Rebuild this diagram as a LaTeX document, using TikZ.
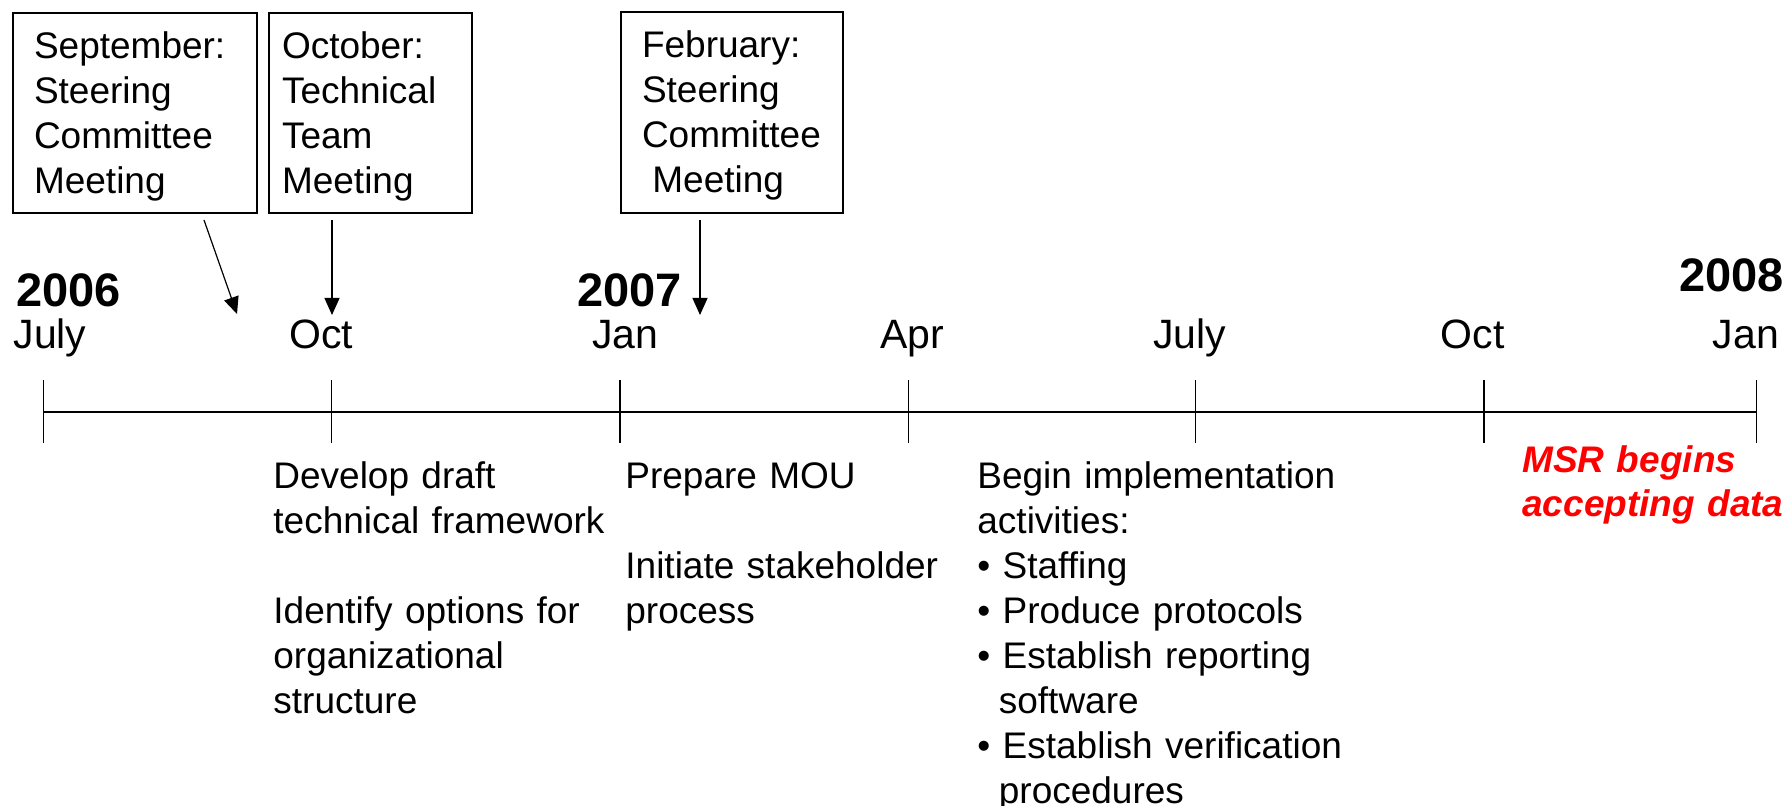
\documentclass[tikz,border=0pt]{standalone}
\usepackage{fontspec}
\setmainfont{Liberation Sans}
\usetikzlibrary{arrows.meta}

\tikzset{
  meetbox/.style={draw, line width=1pt, anchor=north west, inner sep=0pt, align=left,
    font=\fontsize{18.5}{22.5}\selectfont, execute at begin node={\rule{0pt}{16.5pt}}},
  note/.style={anchor=base west, inner sep=0pt, align=left,
    font=\fontsize{18.5}{22.5}\selectfont},
  month/.style={anchor=base, inner sep=0pt, font=\fontsize{20.5}{24}\selectfont},
  year/.style={inner sep=0pt, font=\fontsize{23.5}{28}\selectfont\bfseries},
  arr/.style={-{Triangle[length=8.5pt,width=7.5pt]}, line width=0.6pt},
}

\begin{document}
\begin{tikzpicture}[x=0.5pt,y=-0.5pt]
\useasboundingbox (0,0) rectangle (1787,806);

% ticks on the time line
\coordinate (t0) at (43.5,412);
\coordinate (t1) at (331.7,412);
\coordinate (t2) at (620,412);
\coordinate (t3) at (908.4,412);
\coordinate (t4) at (1195.6,412);
\coordinate (t5) at (1484,412);
\coordinate (t6) at (1756.5,412);
\draw[line width=1pt] (t0) -- (t6);
\foreach \t in {t0,t1,t2,t3,t4,t5,t6}
  \draw[line width=0.75pt] ([yshift=16pt]\t) -- ([yshift=-15.5pt]\t);

% years and months
\node[year, anchor=base west] (y06) at (16,307) {2006};
\node[year, anchor=base west] (y07) at (577,307) {2007};
\node[year, anchor=base east] (y08) at (1784,292) {2008};
\node[month] (m0) at (50,349) {July};
\node[month] (m1) at (321,349) {Oct};
\node[month] (m2) at (625.5,349) {Jan};
\node[month] (m3) at (912.5,349) {Apr};
\node[month] (m4) at (1189.5,349) {July};
\node[month] (m5) at (1472.5,349) {Oct};
\node[month] (m6) at (1746,349) {Jan};

% meetings
\node[meetbox, minimum width=122pt, minimum height=100pt, text width=101pt] (sep) at (12,12)
  {September:\\Steering\\Committee\\Meeting};
\node[meetbox, minimum width=101.5pt, minimum height=100pt, text width=88.5pt] (tec) at (268,12)
  {October:\\Technical\\Team\\Meeting};
\node[meetbox, minimum width=111pt, minimum height=100.5pt, text width=90pt] (feb) at (620,11)
  {February:\\Steering\\Committee\\\hspace*{.28em}Meeting};

\coordinate (sepTip) at (237,314);
\coordinate (tecTip) at (332,315);
\coordinate (febTip) at (700,315);
\draw[arr] ([shift={(69,6)}]sep.south) -- (sepTip);
\draw[arr] ([yshift=-3pt]tec.south -| tecTip) -- (tecTip);
\draw[arr] ([yshift=-3pt]feb.south -| febTip) -- (febTip);

% activities
\node[note, text width=170pt] (dev) at (273,488)
  {Develop draft\\technical framework\\[22.5pt]Identify options for\\organizational\\structure};
\node[note, text width=165pt] (mou) at (625,488)
  {Prepare MOU\\[22.5pt]Initiate stakeholder\\process};
\node[note, text width=200pt] (imp) at (977,488)
  {Begin implementation\\activities:\\
   \textbullet\ Staffing\\
   \textbullet\ Produce protocols\\
   \textbullet\ Establish reporting\\
   \hspace*{.58em}software\\
   \textbullet\ Establish verification\\
   \hspace*{.58em}procedures};
\node[note, text width=135pt, text=red, font=\fontsize{18.5}{22}\selectfont\bfseries\itshape] (msr) at (1522,473)
  {MSR begins\\accepting data};
\end{tikzpicture}
\end{document}
